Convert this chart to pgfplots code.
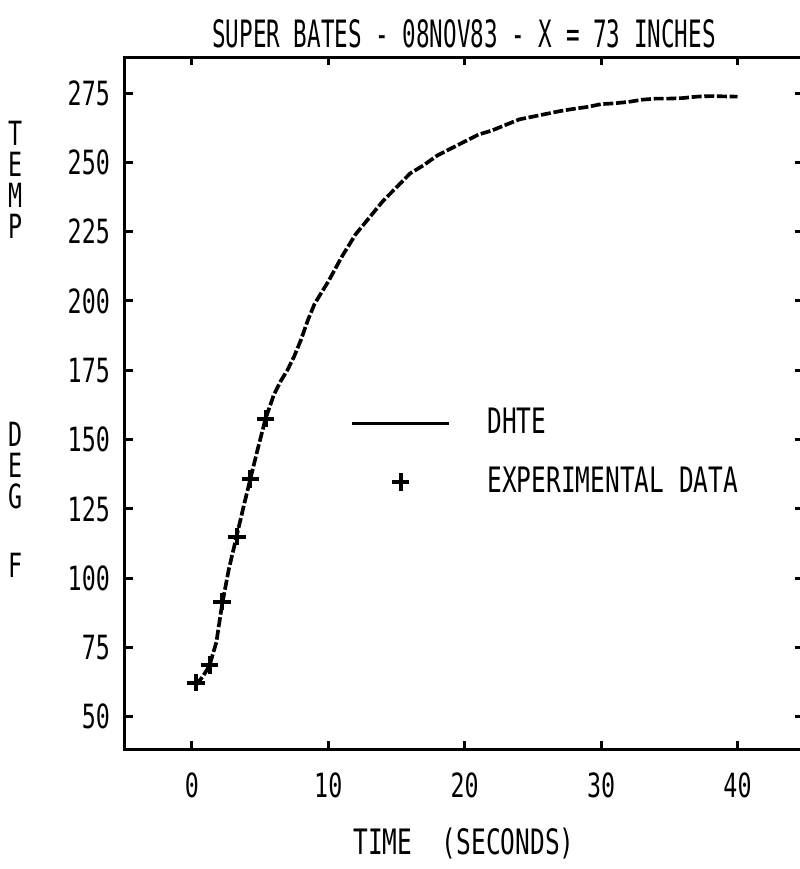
\documentclass[border=0pt]{standalone}
\usepackage{fontspec}
\setmainfont{DejaVu Sans Mono}[FakeStretch=0.7]
\newfontfamily\titlefont{DejaVu Sans Mono}[FakeStretch=0.6]
\usepackage{pgfplots}
\pgfplotsset{compat=1.18}

% DHTE prediction
\pgfplotstableread{
t T
0.3 61.5
0.8 64.5
1.3 68.5
1.8 77
2.2 90
2.7 103
3.3 115.5
3.8 126
4.3 136
4.8 146
5.4 157.5
6.0 166
6.5 171
7.0 175
7.5 180
8.0 186
8.5 193
9.0 199
9.5 203
10.0 207
11.0 216
12.0 224
13.0 230
14.0 236
15.0 241
16.0 246
17.0 249
18.0 252.5
19.0 255
20.0 257.5
21.0 260
22.0 261.5
23.0 263.5
24.0 265.5
25.0 266.5
26.0 267.5
27.0 268.5
28.0 269.3
29.0 270
30.0 271
31.0 271.3
32.0 271.8
33.0 272.6
34.0 273
35.0 273
36.0 273.2
37.0 273.7
38.0 273.9
39.0 273.8
40.0 273.7
}\dhte

% experimental data
\pgfplotstableread{
t T
0.3 62.3
1.3 68.7
2.2 91.5
3.3 115
4.3 135.8
5.4 157.5
}\expdata

\begin{document}
\begin{tikzpicture}
\begin{axis}[
  scale only axis, width=203.4pt, height=207.6pt,
  at={(0,0)}, anchor=south west, clip=false,
  xmin=-4.9, xmax=44.8, ymin=38.4, ymax=288,
  xtick={0,10,...,40}, ytick={50,75,...,275},
  tick align=inside, major tick length=2.4pt,
  axis line style={line width=0.9pt},
  every tick/.style={line width=0.9pt, black},
  /pgf/number format/assume math mode=true,
  ticklabel style={font=\fontsize{10}{12}\selectfont},
  yticklabel style={xshift=-1pt},
  xticklabel style={yshift=-3.5pt},
  title={SUPER BATES - 08NOV83 - X = 73 INCHES},
  title style={at={(0.5,1)}, anchor=south, inner sep=0pt, yshift=-3.6pt,
    font=\titlefont\fontsize{11.3}{13}\selectfont},
  xlabel={TIME\ \ (SECONDS)},
  xlabel style={at={(axis description cs:0.5,0)}, anchor=north, inner sep=0pt,
    yshift=-23.5pt, font=\fontsize{10.5}{12}\selectfont},
  legend style={draw=none, fill=none, at={(axis description cs:0.332,0.428)},
    anchor=west, inner sep=0pt, row sep=4.4pt,
    font=\fontsize{10.5}{12}\selectfont,
    /tikz/every odd column/.append style={column sep=9pt}},
  legend cell align=left,
]
\addplot[black, line width=1.1pt, dash pattern=on 3pt off 0.8pt,
  legend image code/.code={\draw[solid, line width=1pt] (0pt,0pt) -- (29pt,0pt);}]
  table[x=t, y=T] {\dhte};
\addlegendentry{DHTE}
\addplot[only marks, black, mark=+, mark size=2.6pt, line width=1.2pt,
  legend image code/.code={\draw[mark repeat=2, mark phase=2]
    plot coordinates {(0pt,0pt) (14.5pt,0pt) (29pt,0pt)};}]
  table[x=t, y=T] {\expdata};
\addlegendentry{EXPERIMENTAL DATA}

\node[font=\fontsize{10}{9.3}\selectfont, align=center, inner sep=0pt]
  at (axis description cs:-0.162,0.822) {T\\E\\M\\P};
\node[font=\fontsize{10}{9.3}\selectfont, align=center, inner sep=0pt]
  at (axis description cs:-0.162,0.41) {D\\E\\G};
\node[font=\fontsize{10}{9.3}\selectfont, inner sep=0pt]
  at (axis description cs:-0.162,0.266) {F};
\end{axis}
\pgfresetboundingbox
\useasboundingbox (-37.5pt,-36pt) rectangle (202.5pt,224.7pt);
\end{tikzpicture}
\end{document}
